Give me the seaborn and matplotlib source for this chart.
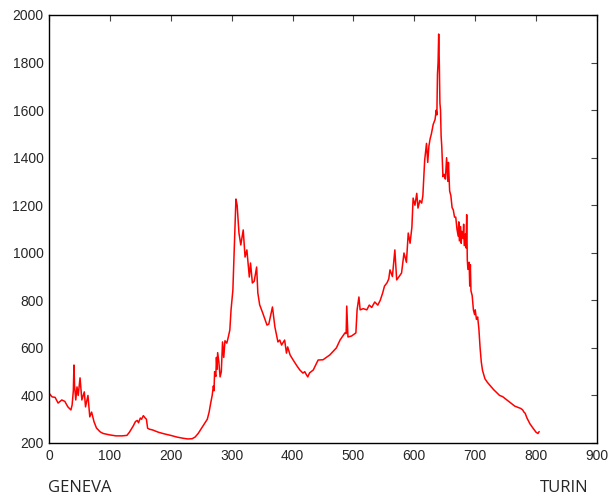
import numpy as np
import pandas as pd
import matplotlib
matplotlib.use("Agg")
import matplotlib.pyplot as plt
import seaborn as sns

# route profile, distance (km) vs elevation (m)
distance = [
    0, 5, 10, 15, 21, 26, 31, 36, 38, 40, 41, 42, 44, 46, 48, 51, 54, 58, 60, 64,
    67, 70, 74, 78, 84, 89, 100, 110, 120, 128, 132, 138, 142, 145, 147, 150, 152, 155, 158, 160,
    162, 165, 170, 180, 190, 200, 210, 220, 228, 235, 240, 245, 250, 255, 260, 263, 265, 268, 270, 271,
    272, 274, 275, 276, 277, 279, 281, 283, 285, 287, 289, 292, 294, 297, 299, 302, 304, 306, 307, 309,
    312, 315, 319, 322, 325, 329, 331, 334, 337, 341, 343, 346, 351, 358, 361, 367, 371, 376, 379, 382,
    387, 390, 392, 396, 401, 407, 412, 417, 420, 423, 425, 428, 434, 442, 450, 461, 472, 478, 486, 488,
    489, 491, 497, 504, 506, 509, 511, 516, 522, 526, 530, 535, 540, 544, 548, 551, 555, 558, 560, 564,
    568, 571, 575, 579, 583, 587, 590, 593, 596, 598, 601, 604, 606, 609, 612, 614, 617, 620, 622, 624,
    626, 628, 631, 634, 636, 637, 638, 639, 640, 641, 642, 643, 644, 645, 646, 647, 649, 651, 653, 655,
    656, 658, 660, 662, 664, 666, 668, 670, 672, 673, 674, 676, 677, 678, 680, 681, 682, 684, 685, 686,
    687, 688, 690, 691, 692, 693, 695, 697, 699, 700, 702, 704, 706, 708, 710, 712, 716, 720, 725, 730,
    736, 740, 745, 752, 760, 765, 770, 775, 778, 780, 782, 785, 790, 795, 800, 803, 805,
]
elevation = [
    410, 394, 392, 368, 381, 375, 352, 339, 360, 420, 528, 440, 381, 436, 400, 474, 381, 415, 352, 400,
    310, 330, 289, 263, 247, 240, 234, 230, 230, 232, 245, 270, 290, 295, 285, 305, 300, 315, 305, 300,
    262, 258, 255, 245, 238, 232, 225, 220, 217, 218, 225, 240, 260, 280, 300, 330, 360, 400, 440, 420,
    500, 480, 560, 510, 580, 540, 478, 500, 625, 560, 630, 620, 640, 675, 760, 843, 1000, 1150, 1226, 1200,
    1083, 1033, 1096, 982, 1012, 898, 957, 873, 880, 940, 831, 781, 747, 696, 700, 772, 688, 625, 633, 612,
    633, 578, 604, 570, 549, 525, 507, 494, 500, 486, 478, 495, 507, 549, 550, 570, 600, 633, 663, 660,
    776, 646, 650, 663, 760, 814, 760, 765, 760, 780, 770, 793, 780, 800, 831, 860, 873, 890, 928, 900,
    1012, 886, 900, 915, 999, 960, 1083, 1040, 1108, 1230, 1200, 1250, 1188, 1220, 1209, 1240, 1390, 1460, 1380, 1450,
    1480, 1500, 1540, 1560, 1600, 1580, 1750, 1800, 1920, 1800, 1630, 1600, 1490, 1450, 1390, 1320, 1330, 1310, 1400, 1300,
    1380, 1260, 1240, 1190, 1180, 1150, 1150, 1100, 1070, 1130, 1050, 1110, 1040, 1090, 1060, 1120, 1030, 1080, 1020, 1160,
    970, 930, 960, 860, 950, 840, 820, 760, 740, 760, 720, 730, 680, 600, 540, 505, 470, 455, 440, 425,
    410, 400, 395, 381, 365, 355, 350, 345, 339, 330, 325, 305, 280, 262, 245, 240, 248,
]

x_ticks = list(range(0, 901, 100))
y_ticks = list(range(200, 2001, 200))

df = pd.DataFrame({"distance": distance, "elevation": elevation})

sns.set_style("white")
plt.rcParams["font.family"] = ["Liberation Sans", "DejaVu Sans"]

fig = plt.figure(figsize=(6.1, 5.0), dpi=100)
ax = fig.add_axes([0.0803, 0.114, 0.8984, 0.856])

sns.lineplot(data=df, x="distance", y="elevation", sort=False, estimator=None,
             color="red", linewidth=1.1, ax=ax)

ax.set_xlim(0, 900)
ax.set_ylim(200, 2000)
ax.set_xticks(x_ticks)
ax.set_yticks(y_ticks)
ax.set_xlabel("")
ax.set_ylabel("")
ax.tick_params(direction="in", length=4, width=0.8, color="#444444",
               top=True, right=True, labelsize=10, pad=4)
for side in ax.spines.values():
    side.set_color("black")
    side.set_linewidth(1.0)

fig.text(0.079, 0.024, "GENEVA", fontsize=12, family=["Open Sans", "DejaVu Sans"],
         ha="left", va="center")
fig.text(0.964, 0.024, "TURIN", fontsize=12, family=["Open Sans", "DejaVu Sans"],
         ha="right", va="center")

fig.savefig("out.png", dpi=100)
